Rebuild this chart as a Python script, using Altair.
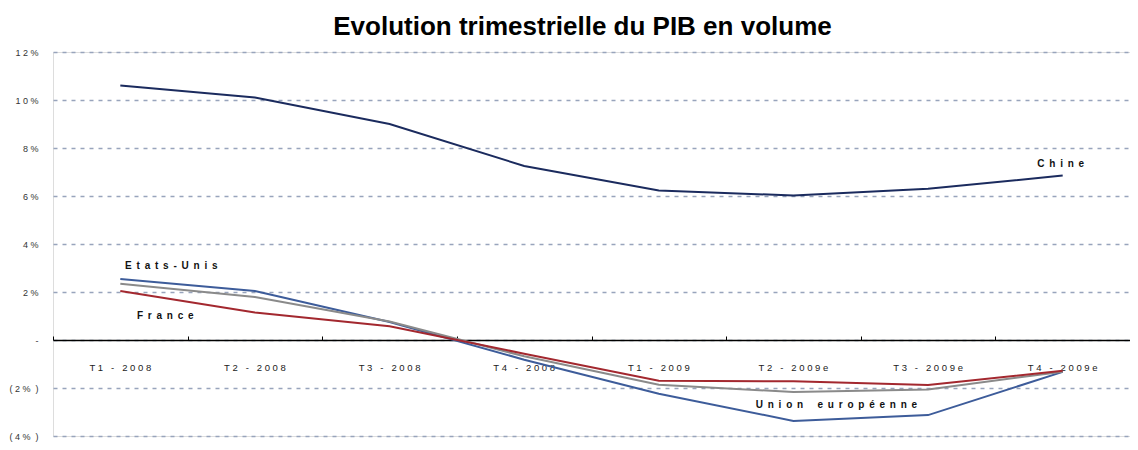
import altair as alt
import pandas as pd

categories = ["T1 - 2008", "T2 - 2008", "T3 - 2008", "T4 - 2008",
              "T1 - 2009", "T2 - 2009e", "T3 - 2009e", "T4 - 2009e"]
chine = [10.6, 10.1, 9.0, 7.25, 6.23, 6.02, 6.3, 6.85]
etats_unis = [2.54, 2.04, 0.75, -0.82, -2.24, -3.37, -3.13, -1.33]
union_europeenne = [2.34, 1.79, 0.77, -0.68, -1.86, -2.17, -2.06, -1.32]
france = [2.04, 1.15, 0.57, -0.57, -1.70, -1.72, -1.87, -1.28]

series_names = ["Chine", "Etats-Unis", "Union européenne", "France"]
series_values = [chine, etats_unis, union_europeenne, france]
series_colors = ["#1B2B5E", "#3D5C9A", "#8A8A8A", "#A3282F"]

# annotation labels: text, anchor category, value, horizontal offset
label_names = ["Chine", "Etats-Unis", "France", "Union européenne"]
label_cats = ["T4 - 2009e", "T1 - 2008", "T1 - 2008", "T2 - 2009e"]
label_vals = [7.33, 3.07, 1.02, -2.7]
label_dx = [-2, 51, 45, 43]

NB = "\u00a0"
GAP = "\u00a0\u2009"

rows = []
for name, vals in zip(series_names, series_values):
    for c, v in zip(categories, vals):
        rows.append({"cat": c, "val": v, "serie": name})
df = pd.DataFrame(rows)


def spaced(s):
    return GAP.join(ch if ch != " " else GAP for ch in s)


lab = pd.DataFrame({
    "txt": [spaced(n) for n in label_names],
    "cat": label_cats,
    "val": label_vals,
    "dx": label_dx,
})

W, H = 1077, 384
FONT = "Liberation Sans"

xscale = alt.Scale(type="band", domain=categories, paddingInner=0, paddingOuter=0)
yscale = alt.Scale(domain=[-4, 12], nice=False, zero=False)

ylab = ("datum.value == 0 ? '-' : (datum.value < 0 ? '(" + NB + "' + join(split(toString(abs(datum.value)), ''), '" + NB + "') + '"
        + NB + "%" + NB + NB + ")' : join(split(toString(datum.value), ''), '" + NB + "') + '" + NB + "%')")

yaxis = alt.Axis(
    values=[-4, -2, 0, 2, 4, 6, 8, 10, 12],
    grid=True, gridColor="#98A4BC", gridDash=[4, 5], gridWidth=1.6,
    domain=False, ticks=False, title=None,
    labelFont=FONT, labelFontSize=9, labelColor="#333333", labelPadding=15,
    labelExpr=ylab,
)

lines = alt.Chart(df).mark_line(strokeWidth=2).encode(
    x=alt.X("cat:N", scale=xscale, sort=categories,
            axis=alt.Axis(orient="bottom", offset=-(H * 4 / 16), domain=False, ticks=False,
                          labelAngle=0, labelFont=FONT, labelFontSize=9.5, labelColor="#222222",
                          labelPadding=22, title=None, grid=False,
                          labelExpr="join(split(datum.label, ''), '" + NB + "')")),
    y=alt.Y("val:Q", scale=yscale, axis=yaxis),
    color=alt.Color("serie:N", scale=alt.Scale(domain=series_names, range=series_colors), legend=None),
    detail="serie:N",
)

zero = alt.Chart(pd.DataFrame({"cat": categories})).mark_point(opacity=0).encode(
    x=alt.X("cat:N", scale=xscale, sort=categories,
            axis=alt.Axis(orient="top", offset=-(H * 12 / 16), domain=True, domainColor="#000000",
                          domainWidth=1.5, ticks=True, tickColor="#000000", tickSize=4,
                          tickBand="extent", labels=False, title=None, grid=False)),
)

texts = alt.layer(*[
    alt.Chart(lab.iloc[[i]]).mark_text(font=FONT, fontSize=10, fontWeight="bold",
                                       color="#111111", dx=int(lab.dx[i])).encode(
        x=alt.X("cat:N", scale=xscale, sort=categories, axis=None),
        y=alt.Y("val:Q", scale=yscale),
        text="txt:N",
    ) for i in range(len(lab))
])

chart = alt.layer(zero, lines, texts).resolve_axis(x="independent").properties(
    width=W, height=H,
    autosize=alt.AutoSizeParams(type="none"),
    padding={"left": 45, "top": 44, "right": 0, "bottom": 6},
    title=alt.TitleParams("Evolution trimestrielle du PIB en volume", font=FONT, fontSize=26,
                          fontWeight="bold", color="#000000", anchor="middle", offset=8, dx=-9),
).configure_view(stroke=None).configure(background="white")

chart.save("out.html", embed_options={"renderer": "svg", "actions": False})
